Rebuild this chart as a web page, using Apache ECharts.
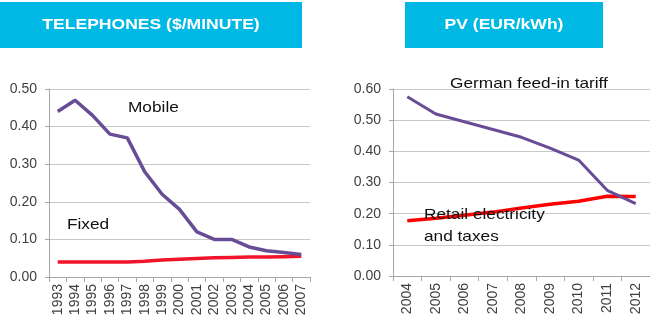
<!DOCTYPE html>
<html><head><meta charset="utf-8">
<script src="https://cdn.jsdelivr.net/npm/echarts@6/dist/echarts.min.js"></script>
<style>html,body{margin:0;padding:0;background:#fff}#c{width:650px;height:322px}</style>
</head><body><div id="c"></div>
<script>
const telYears = ['1993','1994','1995','1996','1997','1998','1999','2000','2001','2002','2003','2004','2005','2006','2007'];
const mobile = [0.44,0.47,0.43,0.38,0.37,0.28,0.22,0.18,0.12,0.10,0.10,0.08,0.07,0.065,0.06];
const fixed = [0.04,0.04,0.04,0.04,0.04,0.042,0.045,0.047,0.049,0.051,0.052,0.053,0.053,0.054,0.055];
const pvYears = ['2004','2005','2006','2007','2008','2009','2010','2011','2012'];
const feedIn = [0.575,0.52,0.495,0.47,0.445,0.41,0.372,0.275,0.232];
const retail = [0.177,0.185,0.195,0.205,0.218,0.23,0.24,0.256,0.255];
const telTicks = [0,0.1,0.2,0.3,0.4,0.5];
const pvTicks = [0,0.1,0.2,0.3,0.4,0.5,0.6];

const font = 'Liberation Sans, Arial, sans-serif';
const purple = '#684C96';
const red = '#F2142B';
const axisLabel = {color:'#404040', fontSize:14, fontFamily:font};
function yAxis(idx, ticks){
  return {type:'value', gridIndex:idx, min:ticks[0], max:ticks[ticks.length-1], interval:0.1,
    axisLine:{show:true,lineStyle:{color:'#A6A6A6'}},
    axisTick:{show:true,length:4,lineStyle:{color:'#A6A6A6'}},
    splitLine:{lineStyle:{color:'#C8C8C8'}},
    axisLabel:Object.assign({formatter:v=>v.toFixed(2), margin:12}, axisLabel)};
}
function xAxis(idx, cats){
  return {type:'category', gridIndex:idx, data:cats, boundaryGap:true,
    axisLine:{lineStyle:{color:'#A6A6A6'}},
    axisTick:{show:true,length:5,alignWithLabel:false,lineStyle:{color:'#A6A6A6'}},
    axisLabel:Object.assign({rotate:90, interval:0, margin:7}, axisLabel)};
}
function note(x, y, text){
  return {type:'text',x:x,y:y,z:10,scaleX:1.15,style:{text:text,fill:'#111',font:'15px '+font,textVerticalAlign:'middle'}};
}
function title(cx, text){
  return {type:'text',x:cx,y:25,scaleX:1.21,style:{text:text,fill:'#fff',font:'bold 14.5px '+font,textAlign:'center',textVerticalAlign:'middle'}};
}
const chart = echarts.init(document.getElementById('c'));
chart.setOption({
  animation:false,
  grid:[{left:49,right:340,top:89,bottom:45},{left:393,right:0,top:89,bottom:46}],
  xAxis:[xAxis(0,telYears), xAxis(1,pvYears)],
  yAxis:[yAxis(0,telTicks), yAxis(1,pvTicks)],
  series:[
    {type:'line',xAxisIndex:0,yAxisIndex:0,data:fixed,symbol:'none',lineStyle:{color:red,width:3.5}},
    {type:'line',xAxisIndex:0,yAxisIndex:0,data:mobile,symbol:'none',lineStyle:{color:purple,width:3.5}},
    {type:'line',xAxisIndex:1,yAxisIndex:1,data:retail,symbol:'none',lineStyle:{color:'#FF0000',width:3.5}},
    {type:'line',xAxisIndex:1,yAxisIndex:1,data:feedIn,symbol:'none',lineStyle:{color:purple,width:3}}
  ],
  graphic:[
    {type:'rect',shape:{x:0,y:2,width:302,height:46},style:{fill:'#00B8E4'}},
    title(151,'TELEPHONES ($/MINUTE)'),
    {type:'rect',shape:{x:405,y:2,width:198,height:46},style:{fill:'#00B8E4'}},
    title(504,'PV (EUR/kWh)'),
    note(128,108,'Mobile'),
    note(67,225,'Fixed'),
    note(450,84,'German feed-in tariff'),
    note(424,215,'Retail electricity'),
    note(424,237,'and taxes')
  ]
});
</script></body></html>
